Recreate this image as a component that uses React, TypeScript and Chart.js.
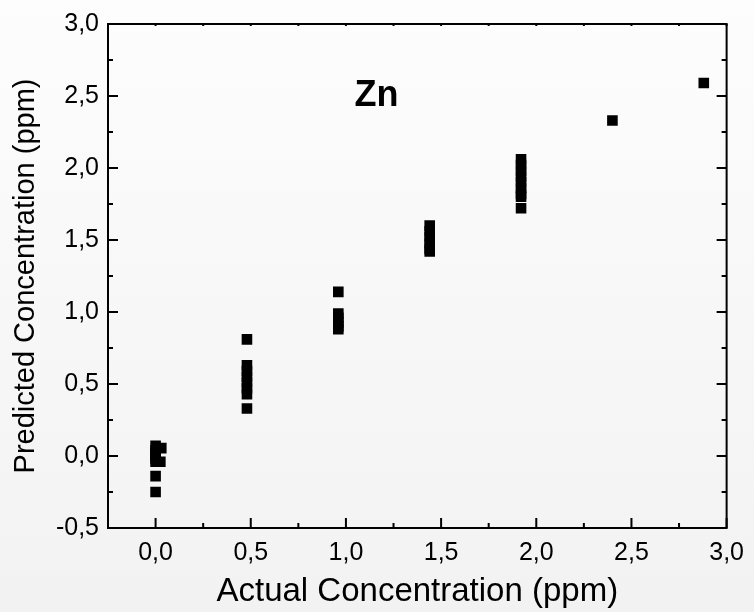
import React, { useEffect, useRef } from "react";
import { Chart, registerables } from "chart.js";

Chart.register(...registerables);

// Actual concentration (ppm) for each measurement
const actual: number[] = [
  0, 0, 0, 0, 0, 0, 0, 0, 0.03, 0.025,
  0.48, 0.48, 0.48, 0.48, 0.48, 0.48, 0.48, 0.48,
  0.96, 0.96, 0.96, 0.96, 0.96, 0.96,
  1.44, 1.44, 1.44, 1.44, 1.44, 1.44,
  1.92, 1.92, 1.92, 1.92, 1.92, 1.92, 1.92, 1.92, 1.92,
  2.4,
  2.88,
];
// Predicted concentration (ppm)
const predicted: number[] = [
  0.07, 0.04, 0.02, 0.0, -0.02, -0.04, -0.14, -0.25, 0.055, -0.04,
  0.81, 0.63, 0.59, 0.55, 0.51, 0.47, 0.43, 0.33,
  1.14, 0.99, 0.96, 0.93, 0.9, 0.88,
  1.6, 1.56, 1.52, 1.48, 1.44, 1.42,
  2.06, 2.02, 1.98, 1.94, 1.9, 1.86, 1.82, 1.8, 1.72,
  2.33,
  2.59,
];

const xTitle = "Actual Concentration (ppm)";
const yTitle = "Predicted Concentration (ppm)";
const label = "Zn";
const xRange = [-0.25, 3.0];
const yRange = [-0.5, 3.0];

const FONT = "'Liberation Sans', Arial, Helvetica, sans-serif";
const fmt = (v: number | string) => Number(v).toFixed(1).replace(".", ",");

export default function App() {
  const ref = useRef<HTMLCanvasElement | null>(null);

  useEffect(() => {
    if (!ref.current) return;

    const bgPlugin = {
      id: "bg",
      beforeDraw(chart: any) {
        const { ctx, width, height } = chart;
        const g = ctx.createLinearGradient(0, 0, 0, height);
        g.addColorStop(0, "#fdfdfd");
        g.addColorStop(1, "#f2f2f2");
        ctx.save();
        ctx.fillStyle = g;
        ctx.fillRect(0, 0, width, height);
        ctx.restore();
      },
    };

    const framePlugin = {
      id: "frame",
      afterDraw(chart: any) {
        const { ctx, chartArea: a, scales } = chart;
        const xs = scales.x;
        const ys = scales.y;
        ctx.save();
        ctx.strokeStyle = "#000";
        ctx.lineWidth = 2;
        ctx.lineCap = "square";
        ctx.beginPath();
        ctx.rect(a.left, a.top, a.right - a.left, a.bottom - a.top);
        ctx.stroke();
        ctx.lineCap = "butt";
        const major = 10;
        const minor = 5;
        // x ticks
        const xMaj = xs.ticks.map((t: any) => t.value);
        xMaj.forEach((v: number) => {
          const px = xs.getPixelForValue(v);
          ctx.beginPath();
          ctx.moveTo(px, a.bottom);
          ctx.lineTo(px, a.bottom - major);
          ctx.moveTo(px, a.top);
          ctx.lineTo(px, a.top + 2);
          ctx.stroke();
        });
        for (let v = 0.25; v < xRange[1]; v += 0.5) {
          const px = xs.getPixelForValue(v);
          ctx.beginPath();
          ctx.moveTo(px, a.bottom);
          ctx.lineTo(px, a.bottom - minor);
          ctx.moveTo(px, a.top);
          ctx.lineTo(px, a.top + 2);
          ctx.stroke();
        }
        // y ticks
        const yMaj = ys.ticks.map((t: any) => t.value);
        yMaj.forEach((v: number) => {
          const py = ys.getPixelForValue(v);
          ctx.beginPath();
          ctx.moveTo(a.left, py);
          ctx.lineTo(a.left + major, py);
          ctx.moveTo(a.right, py);
          ctx.lineTo(a.right - major, py);
          ctx.stroke();
        });
        for (let v = yRange[0] + 0.25; v < yRange[1]; v += 0.5) {
          const py = ys.getPixelForValue(v);
          ctx.beginPath();
          ctx.moveTo(a.left, py);
          ctx.lineTo(a.left + minor, py);
          ctx.moveTo(a.right, py);
          ctx.lineTo(a.right - minor, py);
          ctx.stroke();
        }
        // Label
        ctx.fillStyle = "#000";
        ctx.font = `bold 36px ${FONT}`;
        ctx.textAlign = "center";
        ctx.textBaseline = "middle";
        ctx.fillText(label, xs.getPixelForValue(1.16), ys.getPixelForValue(2.5));
        ctx.restore();
      },
    };

    const chart = new Chart(ref.current, {
      type: "scatter",
      data: {
        datasets: [
          {
            data: actual.map((x, i) => ({ x, y: predicted[i] })),
            pointStyle: "rect",
            pointRadius: 7.5,
            backgroundColor: "#000",
            borderColor: "#000",
            borderWidth: 0,
          },
        ],
      },
      options: {
        animation: false,
        responsive: false,
        maintainAspectRatio: false,
        layout: { padding: { top: 21, right: 21, left: 0, bottom: 0 } },
        plugins: { legend: { display: false }, tooltip: { enabled: false } },
        scales: {
          x: {
            type: "linear",
            min: xRange[0],
            max: xRange[1],
            grid: { display: false, drawTicks: false },
            border: { display: false },
            ticks: {
              stepSize: 0.5,
              includeBounds: false,
              padding: 10,
              color: "#000",
              font: { family: FONT, size: 25 },
              callback: (v: any) => fmt(v),
              maxRotation: 0,
            },
            title: {
              display: true,
              text: xTitle,
              color: "#000",
              font: { family: FONT, size: 33, lineHeight: 1.2 },
              padding: 0,
            },
            afterFit: (s: any) => {
              s.height = 84;
            },
          },
          y: {
            type: "linear",
            min: yRange[0],
            max: yRange[1],
            grid: { display: false, drawTicks: false },
            border: { display: false },
            ticks: {
              stepSize: 0.5,
              includeBounds: false,
              padding: 9,
              color: "#000",
              font: { family: FONT, size: 25 },
              callback: (v: any) => fmt(v),
            },
            title: {
              display: true,
              text: yTitle,
              color: "#000",
              font: { family: FONT, size: 29, lineHeight: 1.2 },
              padding: { top: 9, bottom: 0 },
            },
            afterFit: (s: any) => {
              s.width = 108;
            },
          },
        },
      },
      plugins: [bgPlugin, framePlugin],
    });
    return () => chart.destroy();
  }, []);

  return (
    <div style={{ position: "fixed", left: 0, top: 0, width: 754, height: 612 }}>
      <canvas ref={ref} width={754} height={612} style={{ display: "block", width: 754, height: 612 }} />
    </div>
  );
}
